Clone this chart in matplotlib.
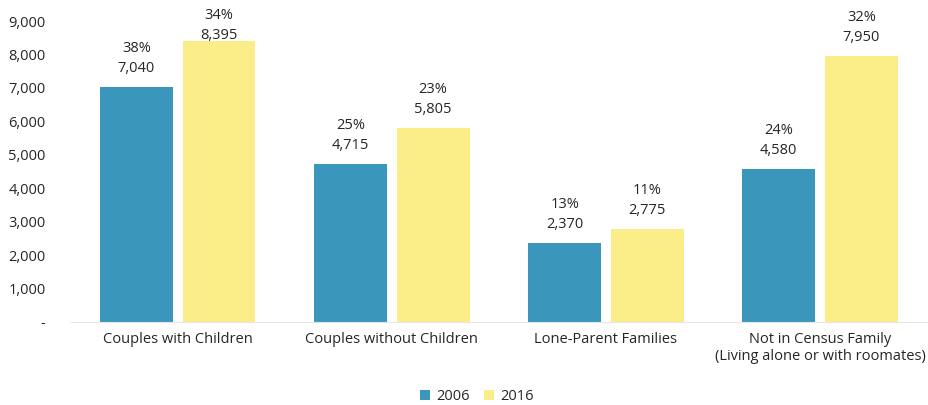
import matplotlib.pyplot as plt
import numpy as np

plt.rcParams['font.family'] = ['Open Sans', 'DejaVu Sans']

categories = ['Couples with Children', 'Couples without Children',
              'Lone-Parent Families',
              'Not in Census Family\n(Living alone or with roomates)']
years = ['2006', '2016']
values_2006 = [7040, 4715, 2370, 4580]
values_2016 = [8395, 5805, 2775, 7950]
pct_2006 = ['38%', '25%', '13%', '24%']
pct_2016 = ['34%', '23%', '11%', '32%']

blue = '#3a97bb'
yellow = '#fbed88'
txt = '#262626'

fig = plt.figure(figsize=(9.29, 4.05), dpi=100)
ax = fig.add_axes([0.076, 0.205, 0.922, 0.743])

x = np.arange(len(categories))
w = 0.34
off = 0.193
b1 = ax.bar(x - off, values_2006, w, color=blue, label=years[0])
b2 = ax.bar(x + off, values_2016, w, color=yellow, label=years[1])

# labels sit above the bar, pushed down if they would leave the plot area
for bars, vals, pcts in [(b1, values_2006, pct_2006), (b2, values_2016, pct_2016)]:
    for bar, v, p in zip(bars, vals, pcts):
        cx = bar.get_x() + bar.get_width() / 2
        py = min(v + 1150, 9180)
        vy = min(v + 560, py - 600)
        ax.text(cx, vy, f'{v:,}', ha='center', va='center', fontsize=10.5,
                color=txt, clip_on=False)
        ax.text(cx, py, p, ha='center', va='center', fontsize=10.5,
                color=txt, clip_on=False)

ax.set_xlim(-0.5, 3.5)
ax.set_ylim(0, 9000)
ax.set_yticks(np.arange(0, 9001, 1000))
ax.set_yticklabels(['-'] + [f'{t:,}' for t in range(1000, 9001, 1000)])
ax.set_xticks(x)
ax.set_xticklabels(categories, fontsize=10.5, color=txt, va='top')
ax.tick_params(axis='y', length=0, labelsize=10.5, labelcolor=txt, pad=18)
ax.tick_params(axis='x', length=0, pad=7)

for s in ['top', 'right', 'left']:
    ax.spines[s].set_visible(False)
ax.spines['bottom'].set_color('#e6e6e6')

fig.legend(loc='center', bbox_to_anchor=(0.513, 0.02), ncol=2, frameon=False,
           fontsize=10.5, handlelength=0.7, handleheight=0.7, handletextpad=0.4,
           columnspacing=1.0, labelcolor=txt)

fig.savefig('out.png', dpi=100)
